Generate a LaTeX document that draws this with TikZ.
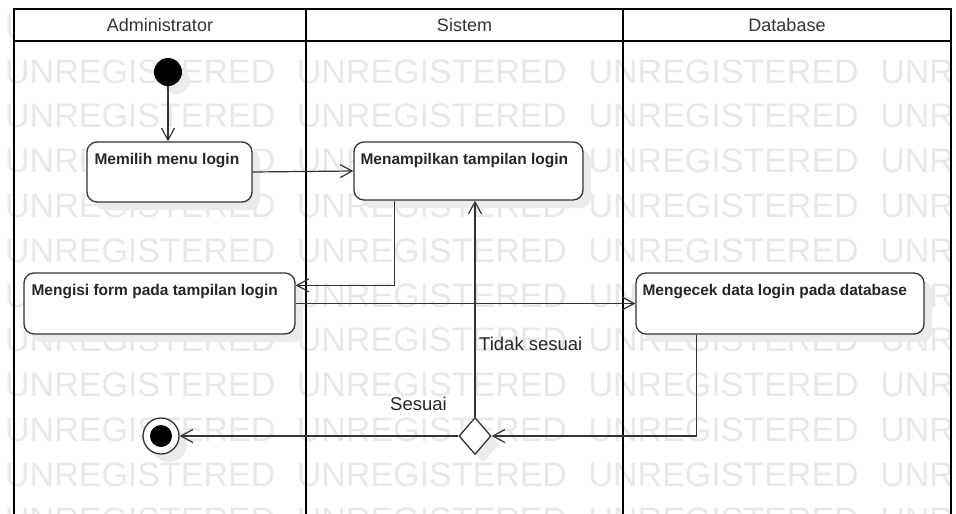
\documentclass[tikz,border=0pt]{standalone}
\usepackage{fontspec}
\setmainfont{Liberation Sans}
\usetikzlibrary{arrows.meta,shapes.geometric,shadows,calc}
\begin{document}
\begin{tikzpicture}[x=1pt,y=-1pt,
  wm/.style={anchor=base west, inner sep=0pt, text=black!9,
    font=\fontsize{34}{34}\selectfont},
  lanerule/.style={line width=2.2pt, draw=black},
  hdr/.style={inner sep=0pt, text=black!80, font=\fontsize{18}{20}\selectfont},
  shade/.style={drop shadow={shadow xshift=8pt, shadow yshift=-8pt, fill=black!8, opacity=1}},
  act/.style={draw=black!80, line width=1.3pt, rounded corners=10pt, fill=white,
    inner sep=0pt, shade},
  acttext/.style={anchor=base west, inner sep=0pt, text=black!85,
    font=\bfseries\fontsize{15.5}{18}\selectfont},
  startnode/.style={circle, fill=black, minimum size=28pt, inner sep=0pt, shade},
  endring/.style={circle, draw=black!80, line width=1.3pt, fill=white,
    minimum size=36pt, inner sep=0pt, shade},
  enddot/.style={circle, fill=black, minimum size=22pt, inner sep=0pt},
  decision/.style={diamond, draw=black!80, line width=1.3pt, fill=white,
    minimum width=32pt, minimum height=37pt, inner sep=0pt, shade},
  flow/.style={draw=black!80, line width=1.2pt,
    -{Straight Barb[length=12pt,width=13pt,line width=1.2pt]}},
  guard/.style={anchor=base west, inner sep=0pt, text=black!85,
    font=\fontsize{18.5}{20}\selectfont}
]
\useasboundingbox (0,0) rectangle (956,514);
\clip (0,0) rectangle (956,514);

% background watermark rows
\foreach \r in {-1,...,10}
  \foreach \c in {0,...,3}
    \node[wm] (wm-\r-\c) at ({5+291.7*\c},{83+44.8*\r}) {UNREGISTERED};

% swimlane frame
\fill[white] (14,9) rectangle (951,41);
\draw[lanerule] (14,520) -- (14,9) -- (951,9) -- (951,520);
\draw[lanerule] (14,41) -- (951,41);
\draw[lanerule] (306,9) -- (306,520);
\draw[lanerule] (623,9) -- (623,520);
\node[hdr] (lane1) at (160,25) {Administrator};
\node[hdr] (lane2) at (464.5,25) {Sistem};
\node[hdr] (lane3) at (787,25) {Database};

% activities
\node[startnode] (start) at (168,72) {};
\node[act, minimum width=165pt, minimum height=60pt] (a1) at (169.5,172) {};
\node[acttext] (t1) at ([shift={(8,23)}]a1.north west) {Memilih menu login};
\node[act, minimum width=229pt, minimum height=58pt] (a2) at (468.5,171) {};
\node[acttext] (t2) at ([shift={(7,23)}]a2.north west) {Menampilkan tampilan login};
\node[act, minimum width=271pt, minimum height=61pt] (a3) at (159.5,303.5) {};
\node[acttext] (t3) at ([shift={(8,23)}]a3.north west) {Mengisi form pada tampilan login};
\node[act, minimum width=288pt, minimum height=61pt] (a4) at (780,303.5) {};
\node[acttext] (t4) at ([shift={(7,23)}]a4.north west) {Mengecek data login pada database};
\node[decision] (dec) at (475,436) {};
\node[endring] (final) at (161,436) {};
\node[enddot] (finaldot) at (final.center) {};

% control flow
\coordinate (a2out) at ($(a2.south west)+(41,0)$);
\coordinate (a3in) at ($(a3.north east)+(0,13)$);
\coordinate (a4out) at ($(a4.south west)+(61,0)$);
\draw[flow] (start) -- (start |- a1.north);
\draw[flow] (a1.east) -- (a2.west);
\draw[flow] (a2out) |- (a3in);
\draw[flow] (a3.east) -- (a4.west);
\draw[flow] (a4out) |- (dec.east);
\draw[flow] (dec.north) -- (dec.north |- a2.south);
\draw[flow] (dec.west) -- (final.east);

% guards
\node[guard] (notok) at (479,350) {Tidak sesuai};
\node[guard] (ok) at (390,410) {Sesuai};
\end{tikzpicture}
\end{document}
